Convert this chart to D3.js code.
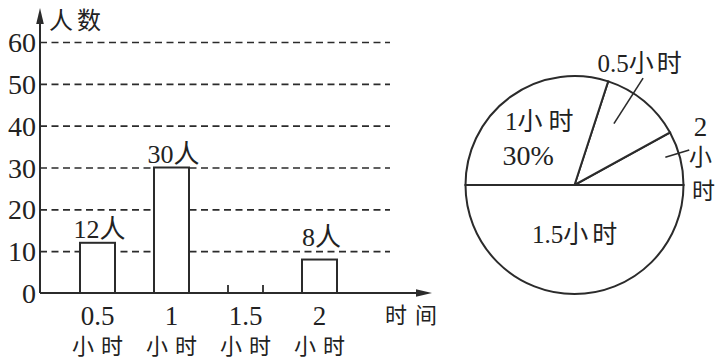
<!DOCTYPE html>
<meta charset="utf-8">
<style>
    body {
        margin: 0;
        background: #fff;
    }
    text {
        font-family: "Liberation Serif", "Noto Sans CJK SC", serif;
        fill: #222;
    }
</style>
<svg id="canvas"></svg>
<script src="https://d3js.org/d3.v7.min.js"></script>
<script>

    // bar chart data (1.5 hour bar is left blank in the picture)
    var categories = ["0.5", "1", "1.5", "2"];
    var barCounts = [12, 30, null, 8];
    var yTicks = [0, 10, 20, 30, 40, 50, 60];
    var unit = "小时";

    // pie data, percent of people
    var piePercents = [12, 30, 50, 8];
    var pieOrder = [3, 0, 1, 2];   // counter-clockwise from 3 o'clock

    var ink = "#2b2b2b";

    var svg = d3.select("svg")
                .attr("width", 725)
                .attr("height", 360);

    var y = d3.scaleLinear().domain([0, 60]).range([293, 42]);
    var x = d3.scaleBand().domain(categories)
              .range([60.5, 356.5])
              .paddingInner(0.527)
              .paddingOuter(0.2635);
    var axisX = 40, base = y(0);

    // number in serif, chinese part spaced out
    function mixed(t, num, cjk, sp) {
        t.append("tspan").text(num);
        t.append("tspan").attr("letter-spacing", sp).text(cjk);
        return t;
    }

    // dashed grid
    svg.append("g")
       .attr("transform", "translate(" + axisX + ",0)")
       .call(d3.axisLeft(y).tickValues(yTicks.slice(1)).tickSize(-350).tickFormat(""))
       .call(function(g) { g.select(".domain").remove(); })
       .selectAll("line")
       .attr("stroke", ink)
       .attr("stroke-width", 1.6)
       .attr("stroke-dasharray", "7,4.5");

    // y tick labels
    var yl = svg.append("g")
       .attr("transform", "translate(" + (axisX - 2) + ",0)")
       .call(d3.axisLeft(y).tickValues(yTicks).tickSize(0).tickPadding(2));
    yl.select(".domain").remove();
    yl.selectAll("text")
      .attr("font-size", 28)
      .attr("font-family", "Liberation Serif")
      .attr("fill", "#222")
      .attr("dy", "0.34em");

    // bars
    var barData = categories.map(function(c, i) { return {cat: c, v: barCounts[i]}; });
    var shown = barData.filter(function(d) { return d.v != null; });

    svg.append("g").selectAll("rect")
       .data(shown)
       .enter().append("rect")
       .attr("x", function(d) { return x(d.cat); })
       .attr("y", function(d) { return y(d.v); })
       .attr("width", x.bandwidth())
       .attr("height", function(d) { return base - y(d.v); })
       .attr("fill", "#fff")
       .attr("stroke", ink)
       .attr("stroke-width", 2);

    // edge marks for the blank bar
    var blank = barData.filter(function(d) { return d.v == null; });
    svg.append("g").selectAll("line")
       .data(blank.flatMap(function(d) { return [x(d.cat), x(d.cat) + x.bandwidth()]; }))
       .enter().append("line")
       .attr("x1", function(d) { return d; }).attr("x2", function(d) { return d; })
       .attr("y1", base).attr("y2", base - 8)
       .attr("stroke", ink).attr("stroke-width", 1.8);

    svg.append("g").selectAll("text")
       .data(shown)
       .enter().append("text")
       .attr("x", function(d) { return x(d.cat) + x.bandwidth() / 2 + 2; })
       .attr("y", function(d) { return Math.min(y(d.v), y(10)) - 5; })
       .attr("text-anchor", "middle")
       .attr("font-size", 26)
       .text(function(d) { return d.v + "人"; });

    // axes with arrows
    svg.append("line").attr("x1", axisX).attr("y1", base).attr("x2", axisX).attr("y2", 20)
       .attr("stroke", ink).attr("stroke-width", 2);
    svg.append("path").attr("d", "M" + axisX + ",8L" + (axisX - 3.8) + ",24L" + (axisX + 3.8) + ",24Z")
       .attr("fill", ink);
    svg.append("line").attr("x1", axisX).attr("y1", base).attr("x2", 420).attr("y2", base)
       .attr("stroke", ink).attr("stroke-width", 2);
    svg.append("path").attr("d", "M432," + base + "L416," + (base - 3.8) + "L416," + (base + 3.8) + "Z")
       .attr("fill", ink);

    svg.append("text").attr("x", 49).attr("y", 29).attr("font-size", 24)
       .attr("letter-spacing", 4).text("人数");
    svg.append("text").attr("x", 385).attr("y", 323).attr("font-size", 22)
       .attr("letter-spacing", 8).text("时间");

    // category labels
    var cl = svg.append("g").selectAll("g")
                .data(categories)
                .enter().append("g")
                .attr("transform", function(d) { return "translate(" + (x(d) + x.bandwidth() / 2) + ",0)"; });
    cl.append("text").attr("y", 325).attr("text-anchor", "middle")
      .attr("font-size", 27).text(function(d) { return d; });
    cl.append("text").attr("x", 3.5).attr("y", 354).attr("text-anchor", "middle")
      .attr("font-size", 22).attr("letter-spacing", 7).text(unit);

    // pie
    var cx = 574.5, cy = 185, r = 109;
    var pg = svg.append("g").attr("transform", "translate(" + cx + "," + cy + ")");

    var pie = d3.pie().sort(null)
                .value(function(i) { return piePercents[i]; })
                .startAngle(Math.PI / 2)
                .endAngle(Math.PI / 2 - 2 * Math.PI);
    var arcs = pie(pieOrder);
    var arc = d3.arc().innerRadius(0).outerRadius(r);

    pg.selectAll("path")
      .data(arcs)
      .enter().append("path")
      .attr("d", arc)
      .attr("fill", "#fff")
      .attr("stroke", ink)
      .attr("stroke-width", 2);

    var slice = function(i) { return arcs.filter(function(a) { return a.data === i; })[0]; };
    var angAt = function(a, t) { return a.startAngle + t * (a.endAngle - a.startAngle); };
    var pt = function(a, rr) { return [Math.sin(a) * rr, -Math.cos(a) * rr]; };

    function leader(a, r1, r2) {
        var p1 = pt(a, r1), p2 = pt(a, r2);
        pg.append("line").attr("x1", p1[0]).attr("y1", p1[1]).attr("x2", p2[0]).attr("y2", p2[1])
          .attr("stroke", ink).attr("stroke-width", 1.6);
        return p2;
    }

    // 0.5 hour, label outside
    var e = leader(angAt(slice(0), 0.66), 73, 127);
    mixed(pg.append("text").attr("x", e[0] - 2).attr("y", e[1] - 6).attr("text-anchor", "middle")
            .attr("font-size", 25), categories[0], unit, 3);

    // 2 hours, vertical label at the right
    leader(angAt(slice(3), 0.59), 95, 120);
    var vt = [categories[3]].concat(unit.split(""));
    pg.selectAll("text.v")
      .data(vt)
      .enter().append("text")
      .attr("class", "v")
      .attr("x", function(d, i) { return r + 17 + (i == 2 ? 3 : 0); })
      .attr("y", function(d, i) { return [-49, -20, 14][i]; })
      .attr("text-anchor", "middle")
      .attr("font-size", function(d, i) { return i ? 23 : 27; })
      .text(function(d) { return d; });

    // 1 hour
    var c1 = d3.arc().innerRadius(72).outerRadius(72).centroid(slice(1));
    mixed(pg.append("text").attr("x", c1[0] + 10).attr("y", c1[1] + 3).attr("text-anchor", "middle")
            .attr("font-size", 25), categories[1], unit, 6);
    pg.append("text").attr("x", c1[0] - 4).attr("y", c1[1] + 38).attr("text-anchor", "middle")
      .attr("font-size", 28)
      .text(piePercents[1] + "%");

    // 1.5 hours
    var c2 = d3.arc().innerRadius(50).outerRadius(50).centroid(slice(2));
    mixed(pg.append("text").attr("x", c2[0] + 2).attr("y", c2[1] + 8).attr("text-anchor", "middle")
            .attr("font-size", 25), categories[2], unit, 4);

</script>
